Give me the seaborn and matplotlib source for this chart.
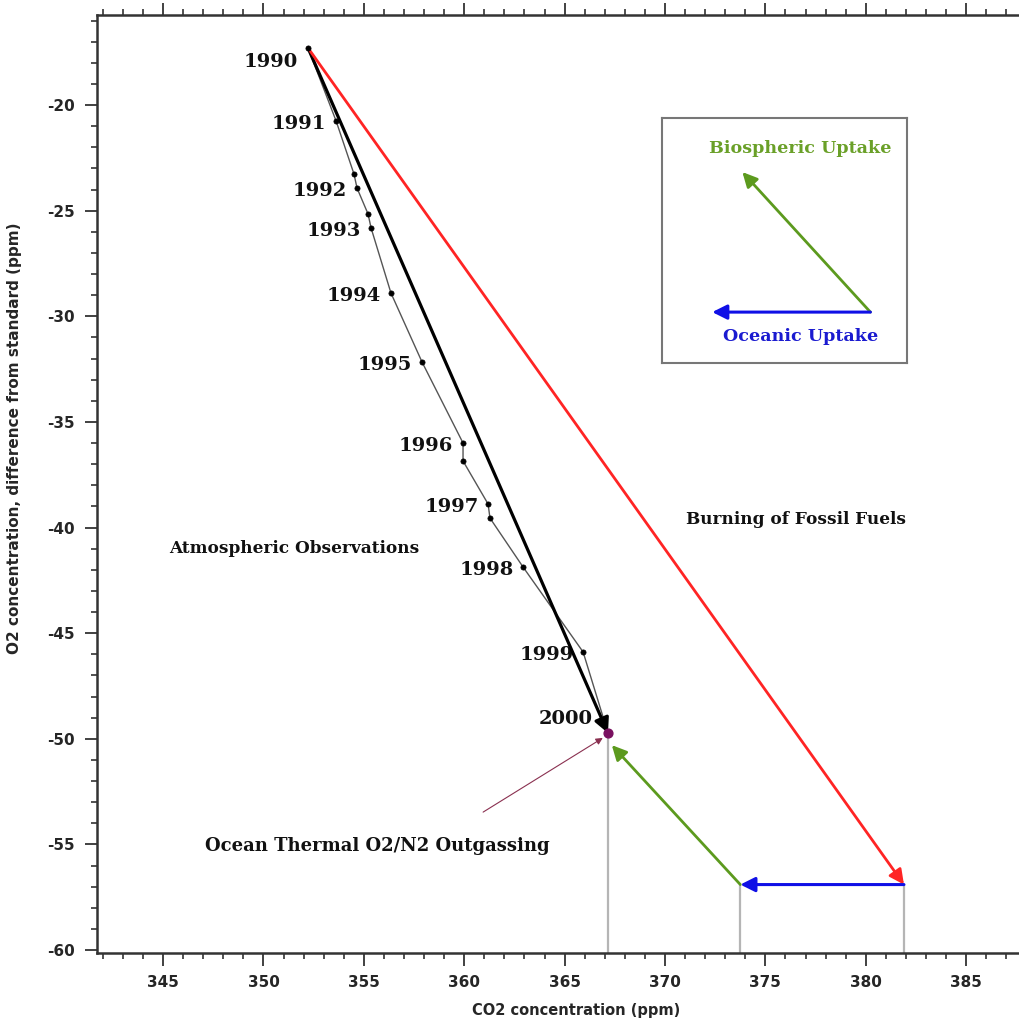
import matplotlib
matplotlib.use("Agg")
import matplotlib.pyplot as plt
import seaborn as sns
import pandas as pd
from matplotlib.ticker import MultipleLocator

# Atmospheric observations: CO2 (ppm) vs O2 difference from standard (ppm)
obs_co2 = [352.22, 353.62, 354.51, 354.66, 355.21, 355.36, 356.35, 357.90,
           359.94, 359.94, 361.19, 361.28, 362.93, 365.92, 367.16]
obs_o2 = [-17.30, -20.76, -23.27, -23.93, -25.16, -25.82, -28.90, -32.17,
          -36.00, -36.85, -38.89, -39.55, -41.87, -45.89, -49.73]
obs_year = ["1990", "1991", "", "1992", "", "1993", "1994", "1995",
            "1996", "", "1997", "", "1998", "1999", "2000"]

# Budget vectors
fossil_end = (381.9, -56.9)      # burning of fossil fuels
ocean_end = (373.75, -56.9)      # oceanic uptake
bio_end = (367.35, -50.3)        # biospheric uptake

x_ticks = [345, 350, 355, 360, 365, 370, 375, 380, 385]
y_ticks = [-20, -25, -30, -35, -40, -45, -50, -55, -60]

df = pd.DataFrame({"co2": obs_co2, "o2": obs_o2, "year": obs_year})

sns.set_theme(style="white")
plt.rcParams["font.family"] = ["DejaVu Sans"]

fig = plt.figure(figsize=(10.19, 10.22), dpi=100)
ax = fig.add_axes([0.0952, 0.0675, 0.9048, 0.9178])
ax.set_xlim(341.71, 387.63)
ax.set_ylim(-60.14, -15.74)

# observation track and points
sns.lineplot(data=df, x="co2", y="o2", sort=False, ax=ax, color="#555555",
             linewidth=1.0, estimator=None)
sns.scatterplot(data=df, x="co2", y="o2", ax=ax, color="black", s=14,
                marker="o", edgecolor="black", linewidth=0.5, zorder=5)
ax.scatter([obs_co2[-1]], [obs_o2[-1]], s=40, color="#7a1060", zorder=6)

# vertical guide lines to the CO2 axis
ymin = ax.get_ylim()[0]
for xv, yv in [(obs_co2[-1], obs_o2[-1]), (ocean_end[0], ocean_end[1]),
               (fossil_end[0], fossil_end[1])]:
    ax.plot([xv, xv], [ymin, yv], color="#b5b5b5", linewidth=1.6, zorder=1)

start = (obs_co2[0], obs_o2[0])
end = (obs_co2[-1], obs_o2[-1])


def arrow(p0, p1, color, lw, scale=22, ax_=None, coords="data"):
    (ax_ or ax).annotate("", xy=p1, xytext=p0, xycoords=coords, textcoords=coords,
                         arrowprops=dict(arrowstyle="-|>", color=color, lw=lw,
                                         mutation_scale=scale, shrinkA=0,
                                         shrinkB=0), zorder=4)


arrow(start, end, "black", 2.3)
arrow(start, fossil_end, "#ff2424", 2.0)
arrow(fossil_end, ocean_end, "#1010e6", 2.2)
arrow(ocean_end, bio_end, "#5c9a1e", 2.0)
ax.annotate("", xy=(366.9, -49.96), xytext=(360.94, -53.47),
            arrowprops=dict(arrowstyle="-|>", color="#8a3050", lw=0.8,
                            mutation_scale=10, shrinkA=0, shrinkB=0))

# year labels
for c, o, yr in zip(obs_co2, obs_o2, obs_year):
    if not yr:
        continue
    dx, dy = -7, -2
    if yr == "1990":
        dy = -10
    if yr == "2000":
        dx, dy = -11, 10
    ax.annotate(yr, xy=(c, o), xytext=(dx, dy), textcoords="offset points",
                ha="right", va="center", fontsize=14, fontweight="bold",
                family="DejaVu Serif", color="#111111")

txt = dict(fontweight="bold", family="DejaVu Serif",
           color="#111111", ha="center", va="center")
ax.text(351.52, -40.97, "Atmospheric Observations", fontsize=12.2, **txt)
ax.text(376.5, -39.6, "Burning of Fossil Fuels", fontsize=12.2, **txt)
ax.text(355.66, -55.08, "Ocean Thermal O2/N2 Outgassing", fontsize=13, **txt)

# key box
key = ax.inset_axes([0.613, 0.629, 0.266, 0.261])
key.set_xlim(0, 1)
key.set_ylim(0, 1)
key.set_xticks([])
key.set_yticks([])
for s in key.spines.values():
    s.set_color("#777777")
    s.set_linewidth(1.5)
arrow((0.849, 0.208), (0.327, 0.780), "#5c9a1e", 2.0, ax_=key)
arrow((0.849, 0.208), (0.204, 0.208), "#1010e6", 2.2, ax_=key)
key.text(0.563, 0.878, "Biospheric Uptake", fontsize=12.6, fontweight="bold",
         family="DejaVu Serif", color="#6aa028", ha="center", va="center")
key.text(0.563, 0.110, "Oceanic Uptake", fontsize=12.6, fontweight="bold",
         family="DejaVu Serif", color="#1a1ad0", ha="center", va="center")

# axes styling
ax.spines["right"].set_visible(False)
for side in ["left", "bottom", "top"]:
    ax.spines[side].set_color("#333333")
    ax.spines[side].set_linewidth(1.8)
ax.set_xticks(x_ticks)
ax.set_yticks(y_ticks)
ax.set_yticklabels([str(v) for v in y_ticks])
ax.xaxis.set_minor_locator(MultipleLocator(1))
ax.yaxis.set_minor_locator(MultipleLocator(1))
ax.tick_params(axis="both", which="major", direction="out", length=9, width=1.3,
               color="#333333", labelsize=11, pad=7)
ax.tick_params(axis="both", which="minor", direction="out", length=4, width=1.2,
               color="#333333")
ax.tick_params(axis="x", which="both", bottom=True, top=True, labeltop=False)
ax.tick_params(axis="y", which="both", left=True, right=False)
for lab in ax.get_xticklabels() + ax.get_yticklabels():
    lab.set_fontweight("bold")
ax.set_xlabel("CO2 concentration (ppm)", fontsize=10.5, fontweight="bold",
              va="center")
ax.set_ylabel("O2 concentration, difference from standard (ppm)", fontsize=11,
              fontweight="bold")
ax.xaxis.set_label_coords(0.52, -0.0615)
ax.yaxis.set_label_coords(-0.081, 0.549)

fig.savefig("out.png", dpi=100)
